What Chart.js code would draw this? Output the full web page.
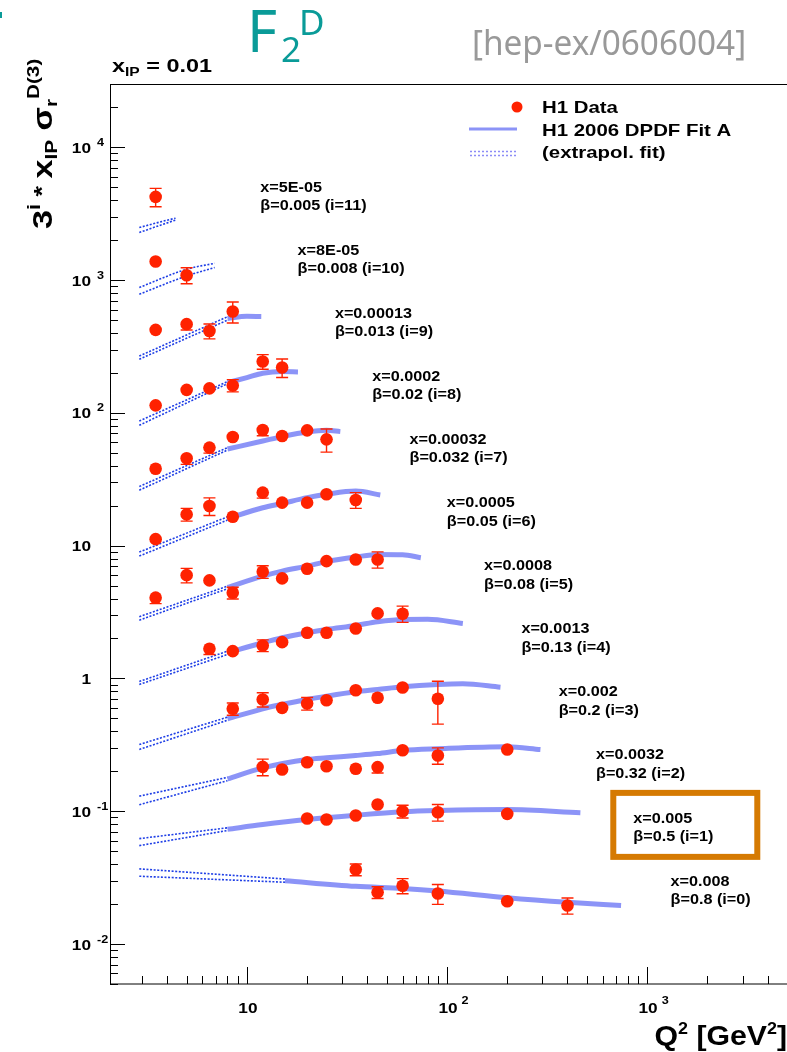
<!DOCTYPE html>
<html>
<head>
<meta charset="utf-8">
<script src="https://cdn.jsdelivr.net/npm/chart.js@4.4.1/dist/chart.umd.min.js"></script>
<style>
  html, body { margin: 0; padding: 0; background: #fff; }
  canvas { display: block; }
</style>
</head>
<body>
<canvas id="chart" width="787" height="1052"></canvas>
<script>
// series index i (values are plotted as 3^i * x_IP sigma_r), top curve first
const seriesIndex = [11, 10, 9, 8, 7, 6, 5, 4, 3, 2, 1, 0];
const xLabels = ['5E-05', '8E-05', '0.00013', '0.0002', '0.00032', '0.0005', '0.0008', '0.0013', '0.002', '0.0032', '0.005', '0.008'];
const betaLabels = ['0.005', '0.008', '0.013', '0.02', '0.032', '0.05', '0.08', '0.13', '0.2', '0.32', '0.5', '0.8'];

// H1 data points (Q2 in GeV2, plotted value, error)
const dataQ2 = [
  [3.5],
  [3.5, 5],
  [3.5, 5, 6.5, 8.5],
  [3.5, 5, 6.5, 8.5, 12, 15],
  [3.5, 5, 6.5, 8.5, 12, 15, 20, 25],
  [3.5, 5, 6.5, 8.5, 12, 15, 20, 25, 35],
  [3.5, 5, 6.5, 8.5, 12, 15, 20, 25, 35, 45],
  [6.5, 8.5, 12, 15, 20, 25, 35, 45, 60],
  [8.5, 12, 15, 20, 25, 35, 45, 60, 90],
  [12, 15, 20, 25, 35, 45, 60, 90, 200],
  [20, 25, 35, 45, 60, 90, 200],
  [35, 45, 60, 90, 200, 400]
];
const dataVal = [
  [4236],
  [1380, 1088],
  [422, 466, 414, 580],
  [114, 149, 153, 161, 244, 220],
  [38.0, 45.5, 54.8, 65.8, 74.3, 67.0, 73.9, 63.2],
  [11.2, 17.2, 19.9, 16.5, 25.1, 21.1, 21.1, 24.4, 22.1],
  [4.06, 6.00, 5.48, 4.42, 6.37, 5.67, 6.71, 7.65, 7.88, 7.88],
  [1.675, 1.606, 1.773, 1.877, 2.21, 2.21, 2.381, 3.09, 3.074],
  [0.591, 0.695, 0.601, 0.648, 0.686, 0.816, 0.715, 0.855, 0.703],
  [0.216, 0.206, 0.234, 0.218, 0.209, 0.215, 0.288, 0.263, 0.292],
  [0.0881, 0.0866, 0.0928, 0.1123, 0.100, 0.0983, 0.0956],
  [0.0364, 0.0245, 0.0275, 0.0240, 0.0210, 0.0195]
];
const dataErr = [
  [670],
  [110, 150],
  [35, 45, 53, 105],
  [5, 13, 13, 17, 31, 35],
  [1.5, 4.5, 5, 3, 7, 3, 6.5, 12.5],
  [0.5, 1.9, 3, 1.5, 2.3, 1, 1, 1, 3],
  [0.4, 0.75, 0.25, 0.45, 0.7, 0.25, 0.3, 0.3, 0.3, 1.1],
  [0.16, 0.06, 0.18, 0.07, 0.08, 0.08, 0.09, 0.12, 0.43],
  [0.063, 0.085, 0.02, 0.07, 0.025, 0.03, 0.025, 0.075, 0.25],
  [0.031, 0.008, 0.009, 0.008, 0.008, 0.021, 0.01, 0.037, 0.01],
  [0.003, 0.003, 0.003, 0.004, 0.011, 0.014, 0.003],
  [0.0037, 0.0025, 0.0036, 0.0041, 0.0008, 0.0027]
];

// DPDF Fit A, extrapolated part (band edges, dotted)
const extrapQ2 = [
  [2.9, 3.7, 4.4], [2.9, 5, 6.9], [2.9, 8], [2.9, 8], [2.9, 8], [2.9, 8],
  [2.9, 8], [2.9, 8], [2.9, 8], [2.9, 8], [2.9, 8], [2.9, 15.5]
];
const extrapLo = [
  [2284, 2594, 2831], [783, 1076, 1245], [253.5, 500], [80.7, 166], [26.2, 52.5], [8.35, 15.6],
  [2.75, 4.74], [0.901, 1.517], [0.292, 0.485], [0.112, 0.170], [0.0551, 0.0716], [0.0324, 0.0292]
];
const extrapHi = [
  [2489, 2746, 2928], [880, 1208, 1339], [268, 530], [86.9, 172], [27.9, 54.8], [8.95, 16.5],
  [2.92, 4.96], [0.949, 1.606], [0.318, 0.511], [0.130, 0.180], [0.0622, 0.0750], [0.0368, 0.0309]
];

// DPDF Fit A in the fitted region (solid band)
const fitQ2 = [
  [], [],
  [8, 10, 11.8],
  [8, 10, 12, 15, 18],
  [8, 12, 15, 20, 25, 29.3],
  [8, 12, 15, 20, 25, 35, 46.4],
  [8, 12, 15, 20, 25, 35, 45, 60, 74],
  [8, 12, 15, 20, 25, 35, 45, 60, 80, 120],
  [8, 12, 15, 20, 25, 35, 45, 60, 90, 120, 185],
  [8, 12, 20, 25, 35, 45, 60, 90, 200, 293],
  [8, 12, 20, 35, 60, 90, 200, 464],
  [15.5, 35, 60, 90, 200, 400, 741]
];
const fitVal = [
  [], [],
  [515, 534, 532],
  [169, 184.5, 198.8, 204.8, 203.3],
  [53.5, 61.4, 66.3, 71.8, 73.9, 72.3],
  [16.0, 19.3, 20.8, 23.0, 24.4, 25.8, 24.1],
  [4.85, 5.90, 6.44, 7.02, 7.58, 8.21, 8.60, 8.55, 8.12],
  [1.56, 1.858, 2.026, 2.21, 2.34, 2.508, 2.675, 2.784, 2.79, 2.597],
  [0.497, 0.591, 0.637, 0.695, 0.736, 0.794, 0.826, 0.866, 0.901, 0.912, 0.860],
  [0.175, 0.212, 0.2453, 0.2526, 0.263, 0.272, 0.2867, 0.2953, 0.3057, 0.2917],
  [0.0732, 0.0794, 0.0866, 0.0933, 0.0990, 0.1012, 0.1030, 0.0973],
  [0.0300, 0.0272, 0.0262, 0.0251, 0.0223, 0.0206, 0.0195]
];

// axis ranges and labelled decades
const xRange = [2.07, 5000];
const yRange = [0.005, 30000];
const xMajor = [10, 100, 1000];
const xMajorExp = ['', '2', '3'];
const yMajor = [0.01, 0.1, 1, 10, 100, 1000, 10000];
const yMajorBase = ['10', '10', '1', '10', '10', '10', '10'];
const yMajorExp = ['-2', '-1', '', '', '2', '3', '4'];

const RED = '#ff2200';
const BAND = 'rgba(128,136,246,0.9)';
const DOTS = '#1f3fe6';
const FONT = '"Liberation Sans", Arial, Helvetica, sans-serif';

function logTicks(min, max) {
  const out = [];
  for (let e = Math.floor(Math.log10(min)); e <= Math.ceil(Math.log10(max)); e++) {
    for (let m = 1; m <= 9; m++) {
      const v = m * Math.pow(10, e);
      if (v >= min && v <= max) out.push({ value: v, major: m === 1 });
    }
  }
  return out;
}

const datasets = [];
seriesIndex.forEach((i, k) => {
  datasets.push({
    type: 'scatter',
    label: 'H1 Data (i=' + i + ')',
    data: dataQ2[k].map((q, j) => ({ x: q, y: dataVal[k][j] })),
    errors: dataErr[k],
    backgroundColor: RED,
    borderColor: RED,
    borderWidth: 0,
    pointRadius: 6.3,
    order: 0
  });
  if (fitQ2[k].length) {
    datasets.push({
      type: 'line',
      label: 'Fit A (i=' + i + ')',
      data: fitQ2[k].map((q, j) => ({ x: q, y: fitVal[k][j] })),
      borderColor: BAND,
      borderWidth: 5,
      pointRadius: 0,
      cubicInterpolationMode: 'monotone',
      order: 2
    });
  }
  [extrapLo[k], extrapHi[k]].forEach(edge => {
    datasets.push({
      type: 'line',
      label: 'extrapol. (i=' + i + ')',
      data: extrapQ2[k].map((q, j) => ({ x: q, y: edge[j] })),
      borderColor: DOTS,
      borderWidth: 1.6,
      borderDash: [2, 1.6],
      pointRadius: 0,
      cubicInterpolationMode: 'monotone',
      order: 1
    });
  });
});

function fontOf(size) { return 'bold ' + size + 'px ' + FONT; }

// draw a run of [text, size, dy] pieces, stretched horizontally by sx
function rich(ctx, parts, x, y, sx, align) {
  const widths = parts.map(p => { ctx.font = p[3] || fontOf(p[1]); return ctx.measureText(p[0]).width * sx; });
  const total = widths.reduce((a, b) => a + b, 0);
  let cx = align === 'right' ? x - total : align === 'center' ? x - total / 2 : x;
  parts.forEach((p, k) => {
    ctx.save();
    ctx.font = p[3] || fontOf(p[1]);
    ctx.translate(cx, y + (p[2] || 0));
    ctx.scale(sx, 1);
    ctx.textAlign = 'left';
    ctx.textBaseline = 'alphabetic';
    ctx.fillText(p[0], 0, 0);
    ctx.restore();
    cx += widths[k];
  });
  return total;
}

const errorBars = {
  id: 'errorBars',
  afterDatasetsDraw(chart) {
    const ctx = chart.ctx, y = chart.scales.y, area = chart.chartArea;
    ctx.save();
    ctx.beginPath();
    ctx.rect(area.left, area.top, area.right - area.left, area.bottom - area.top);
    ctx.clip();
    ctx.strokeStyle = RED;
    ctx.lineWidth = 1.4;
    chart.data.datasets.forEach((ds, idx) => {
      if (!ds.errors) return;
      const meta = chart.getDatasetMeta(idx);
      meta.data.forEach((pt, j) => {
        const v = ds.data[j].y, e = ds.errors[j];
        const top = y.getPixelForValue(v + e);
        const bot = y.getPixelForValue(Math.max(v - e, v * 0.05));
        ctx.beginPath();
        ctx.moveTo(pt.x, top); ctx.lineTo(pt.x, bot);
        if (pt.y - top > 5.5) { ctx.moveTo(pt.x - 6, top); ctx.lineTo(pt.x + 6, top); }
        if (bot - pt.y > 5.5) { ctx.moveTo(pt.x - 6, bot); ctx.lineTo(pt.x + 6, bot); }
        ctx.stroke();
      });
    });
    ctx.restore();
  }
};

const decor = {
  id: 'decor',
  beforeDraw(chart) {
    const ctx = chart.ctx;
    ctx.save();
    ctx.fillStyle = '#fff';
    ctx.fillRect(0, 0, chart.width, chart.height);
    ctx.restore();
  },
  afterDraw(chart) {
    const ctx = chart.ctx, a = chart.chartArea, xs = chart.scales.x, ys = chart.scales.y;
    ctx.save();

    // frame
    ctx.strokeStyle = '#000';
    ctx.lineWidth = 1;
    ctx.strokeRect(a.left + 0.5, a.top + 0.5, a.right - a.left, a.bottom - a.top - 0.5);

    // inward ticks
    ctx.beginPath();
    xs.ticks.forEach(t => {
      const px = Math.round(xs.getPixelForValue(t.value)) + 0.5;
      ctx.moveTo(px, a.bottom);
      ctx.lineTo(px, a.bottom - (t.major ? 17 : 8));
    });
    ys.ticks.forEach(t => {
      const py = Math.round(ys.getPixelForValue(t.value)) + 0.5;
      ctx.moveTo(a.left, py);
      ctx.lineTo(a.left + (t.major ? 15 : 8), py);
    });
    ctx.stroke();

    // tick labels
    ctx.fillStyle = '#000';
    xMajor.forEach((v, k) => {
      const px = xs.getPixelForValue(v);
      const w = rich(ctx, [['10', 15, 0]], px + 1, a.bottom + 29, 1.15, 'center');
      if (xMajorExp[k]) rich(ctx, [[xMajorExp[k], 11, -9]], px + 1 + w / 2 + 4, a.bottom + 29, 1.15, 'left');
    });
    yMajor.forEach((v, k) => {
      const py = ys.getPixelForValue(v);
      rich(ctx, [[yMajorBase[k], 15, 0]], 91, py + 5.5, 1.15, 'right');
      if (yMajorExp[k]) rich(ctx, [[yMajorExp[k], 11, -7]], 97, py + 5.5, 1.15, 'left');
    });

    // axis titles
    rich(ctx, [['Q', 27, 0], ['2', 16, -11], [' [GeV', 27, 0], ['2', 16, -11], [']', 27, 0]], 787, 1045, 1.12, 'right');
    ctx.save();
    ctx.translate(52, 229);
    ctx.rotate(-Math.PI / 2);
    rich(ctx, [['3', 28, 0], ['i', 18, -12], [' * ', 22, -3], ['x', 28, 0], ['IP', 17, 5], [' \u03c3', 28, 0], ['r', 17, 5], ['D(3)', 17, -13]], 0, 0, 1.22, 'left');
    ctx.restore();

    // headline texts
    rich(ctx, [['x', 18, 0], ['IP', 12, 4], [' = 0.01', 18, 0]], 112, 72, 1.3, 'left');
    ctx.fillStyle = '#0a9b98';
    rich(ctx, [['F', 0, 0, '58px "Noto Sans", sans-serif']], 247, 52, 1, 'left');
    rich(ctx, [['2', 0, 0, '35px "Noto Sans", sans-serif']], 281, 62, 1, 'left');
    rich(ctx, [['D', 0, 0, '35px "Noto Sans", sans-serif']], 299, 35, 1, 'left');
    ctx.fillRect(0, 12, 2, 6);
    ctx.fillStyle = '#999';
    rich(ctx, [['[hep-ex/0606004]', 0, 0, '34px "Noto Sans", sans-serif']], 472, 55, 0.98, 'left');

    // legend
    ctx.fillStyle = RED;
    ctx.beginPath(); ctx.arc(517, 107, 5.5, 0, Math.PI * 2); ctx.fill();
    ctx.strokeStyle = BAND;
    ctx.lineWidth = 3;
    ctx.beginPath(); ctx.moveTo(469, 129); ctx.lineTo(517, 129); ctx.stroke();
    ctx.strokeStyle = '#8c8cf6';
    ctx.lineWidth = 1.5;
    ctx.setLineDash([2, 2]);
    ctx.beginPath();
    ctx.moveTo(470, 151.5); ctx.lineTo(518, 151.5);
    ctx.moveTo(470, 155.5); ctx.lineTo(518, 155.5);
    ctx.stroke();
    ctx.setLineDash([]);
    ctx.fillStyle = '#000';
    rich(ctx, [['H1 Data', 17, 0]], 542, 113, 1.2, 'left');
    rich(ctx, [['H1 2006 DPDF Fit A', 17, 0]], 542, 135.5, 1.2, 'left');
    rich(ctx, [['(extrapol. fit)', 17, 0]], 542, 158, 1.2, 'left');

    // per-curve labels, stepping with the 3^i spacing of the curves
    const x0 = xs.getPixelForValue(1310), y0 = ys.getPixelForValue(0.030);
    const dy = y0 - ys.getPixelForValue(0.030 * 2.987);
    seriesIndex.forEach((i, k) => {
      const lx = x0 - 37.3 * i, ly = y0 - dy * i;
      rich(ctx, [['x=' + xLabels[k], 15, 0]], lx, ly + 5, 1.08, 'left');
      rich(ctx, [['\u03b2=' + betaLabels[k] + ' (i=' + i + ')', 15, 0]], lx, ly + 23.5, 1.08, 'left');
      if (i === 1) {
        ctx.strokeStyle = '#d57a02';
        ctx.lineWidth = 6;
        ctx.strokeRect(lx - 20, ly - 24.7, 144, 64);
      }
    });
    ctx.restore();
  }
};

new Chart(document.getElementById('chart'), {
  type: 'scatter',
  data: { datasets },
  options: {
    responsive: false,
    devicePixelRatio: 1,
    animation: false,
    layout: { autoPadding: false, padding: { top: 84, left: 0, right: 0, bottom: 0 } },
    plugins: { legend: { display: false }, tooltip: { enabled: false } },
    scales: {
      x: {
        type: 'logarithmic',
        min: xRange[0], max: xRange[1],
        grid: { display: false },
        border: { display: false },
        ticks: { display: false },
        afterBuildTicks: s => { s.ticks = logTicks(xRange[0], xRange[1]); },
        afterFit: s => { s.height = 68; }
      },
      y: {
        type: 'logarithmic',
        min: yRange[0], max: yRange[1],
        grid: { display: false },
        border: { display: false },
        ticks: { display: false },
        afterBuildTicks: s => { s.ticks = logTicks(yRange[0], yRange[1]); },
        afterFit: s => { s.width = 110; }
      }
    }
  },
  plugins: [errorBars, decor]
});
</script>
</body>
</html>
